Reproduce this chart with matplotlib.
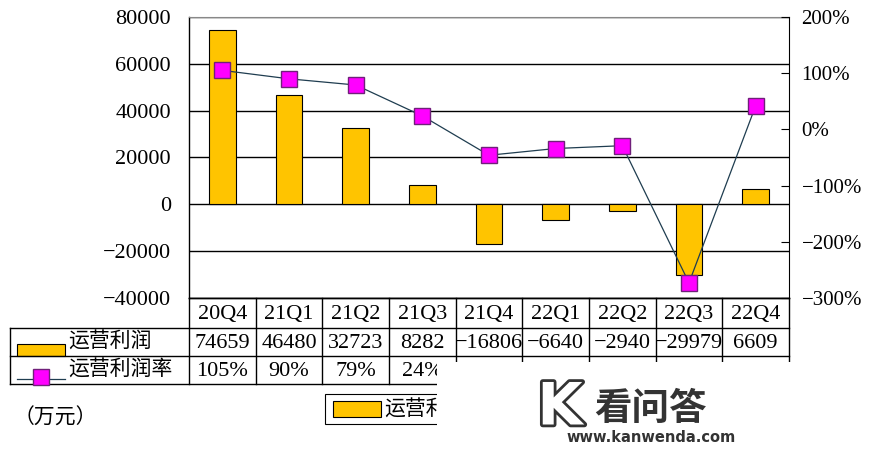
import matplotlib.pyplot as plt
import matplotlib.patheffects as pe
from matplotlib.patches import Rectangle
from matplotlib.lines import Line2D

plt.rcParams['font.family'] = ['Liberation Serif', 'Noto Sans CJK SC', 'DejaVu Serif']

# data
quarters = ['20Q4', '21Q1', '21Q2', '21Q3', '21Q4', '22Q1', '22Q2', '22Q3', '22Q4']
profit = [74659, 46480, 32723, 8282, -16806, -6640, -2940, -29979, 6609]
margin = [105, 90, 79, 24, -46, -34, -29, -273, 42]
left_ticks = [-40000, -20000, 0, 20000, 40000, 60000, 80000]
right_ticks = [-300, -200, -100, 0, 100, 200]
bar_name = '运营利润'
line_name = '运营利润率'
unit_text = '（万元）'

W, H = 871, 449
fig = plt.figure(figsize=(W / 100, H / 100), dpi=100)

# plot area in pixels
px_l, px_r, px_t, px_b = 189, 789, 17, 298
ax = fig.add_axes([px_l / W, 1 - px_b / H, (px_r - px_l) / W, (px_b - px_t) / H])
n = len(quarters)
x = list(range(n))

bar_col = '#FFC400'
ax.bar(x, profit, width=0.4, color=bar_col, edgecolor='black', linewidth=0.8, zorder=2)
ax.set_xlim(-0.5, n - 0.5)
ax.set_ylim(-40000, 80000)
ax.set_yticks(left_ticks)
ax.set_yticklabels([str(v).replace('-', '\u2212') for v in left_ticks], fontsize=16)
ax.tick_params(axis='y', length=0, pad=13)
ax.set_xticks([])
ax.grid(axis='y', color='black', linewidth=1)
ax.set_axisbelow(True)
for s in ['left', 'bottom']:
    ax.spines[s].set_color('black')
    ax.spines[s].set_linewidth(1)
ax.spines['right'].set_visible(False)
ax.spines['top'].set_color('#888888')
ax.spines['top'].set_linewidth(0.8)

ax2 = ax.twinx()
ax2.plot(x, margin, color='#1f3d50', linewidth=0.9, marker='s', markersize=11,
         markerfacecolor='#FF00FF', markeredgecolor='#70207a', markeredgewidth=1, zorder=3)
ax2.set_ylim(-300, 200)
ax2.set_yticks(right_ticks)
ax2.set_yticklabels([(str(v) + '%').replace('-', '\u2212') for v in right_ticks], fontsize=15)
ax2.tick_params(axis='y', direction='in', length=6, width=0.8, pad=9, colors='black')
for s in ['left', 'bottom', 'top']:
    ax2.spines[s].set_visible(False)
ax2.spines['right'].set_color('black')

# overlay in pixel coordinates for table, legend, note
ov = fig.add_axes([0, 0, 1, 1], zorder=5)
ov.set_xlim(0, W)
ov.set_ylim(H, 0)
ov.axis('off')
ov.patch.set_alpha(0)

col_w = (px_r - px_l) / n
rows = [px_b, 328, 356, 384]
tbl_left = 10
lw = 1
ov.plot([px_l, px_r], [rows[0], rows[0]], color='black', lw=lw)
for r in rows[1:]:
    ov.plot([tbl_left, px_r], [r, r], color='black', lw=lw)
ov.plot([tbl_left, tbl_left], [rows[1], rows[3]], color='black', lw=lw)
for i in range(n + 1):
    xx = px_l + i * col_w
    ov.plot([xx, xx], [rows[0], rows[3]], color='black', lw=lw)

for i in range(n):
    cx = px_l + (i + 0.5) * col_w
    ov.text(cx, (rows[0] + rows[1]) / 2 + 1, quarters[i], ha='center', va='center', fontsize=16)
    ov.text(cx, (rows[1] + rows[2]) / 2 + 1, str(profit[i]).replace('-', '\u2212'),
            ha='center', va='center', fontsize=16)
    ov.text(cx, (rows[2] + rows[3]) / 2 + 1, (str(margin[i]) + '%').replace('-', '\u2212'),
            ha='center', va='center', fontsize=16)

# row labels with legend keys
ov.add_patch(Rectangle((17, 344), 48, 12, facecolor=bar_col, edgecolor='black', lw=0.8))
ov.text(68, 342, bar_name, ha='left', va='center', fontsize=15, family='Noto Sans CJK SC')
ov.add_artist(Line2D([17, 65], [379, 379], color='#1f3d50', lw=0.9))
ov.add_artist(Line2D([41], [377], marker='s', markersize=11, markerfacecolor='#FF00FF',
                     markeredgecolor='#70207a', markeredgewidth=1))
ov.text(68, 370, line_name, ha='left', va='center', fontsize=15, family='Noto Sans CJK SC')

# bottom legend box
ov.add_patch(Rectangle((325, 394), 300, 30, facecolor='white', edgecolor='black', lw=0.8))
ov.add_patch(Rectangle((333, 401), 48, 16, facecolor=bar_col, edgecolor='black', lw=0.8))
ov.text(384, 410, bar_name, ha='left', va='center', fontsize=15, family='Noto Sans CJK SC')

ov.text(14, 418, unit_text, ha='left', va='center', fontsize=15, family='Noto Sans CJK SC')

# watermark patch
ov.add_patch(Rectangle((437, 362), W - 437, H - 362, facecolor='white', edgecolor='none', zorder=10))
ov.text(560, 408, 'K', ha='center', va='center', fontsize=42, color='white', weight='bold',
        family='DejaVu Sans', zorder=11,
        path_effects=[pe.withStroke(linewidth=4, foreground='#333333')])
ov.text(650, 408, '看问答', ha='center', va='center', fontsize=27, color='#333333',
        weight='bold', family='Noto Sans CJK SC', zorder=11)
ov.text(651, 438, 'www.kanwenda.com', ha='center', va='center', fontsize=10.5, color='#333333',
        weight='bold', family='DejaVu Sans', zorder=11)

fig.savefig('out.png', dpi=100)
